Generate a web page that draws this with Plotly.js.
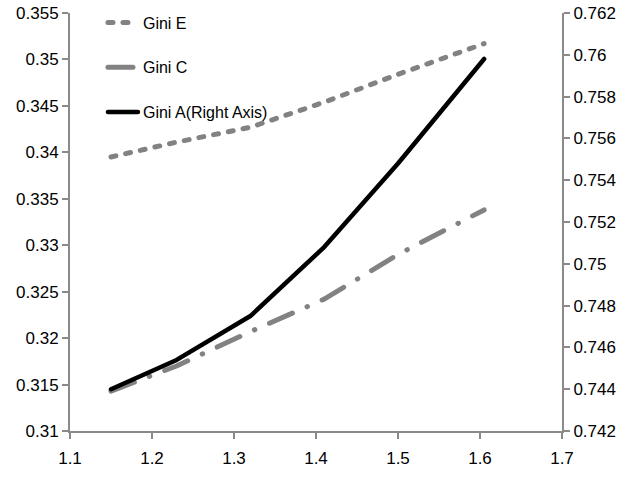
<!DOCTYPE html>
<html>
<head>
<meta charset="utf-8">
<script src="https://cdn.plot.ly/plotly-3.0.1.min.js"></script>
<style>
  html, body { margin: 0; padding: 0; background: #fff; }
  #chart { width: 625px; height: 478px; }
  path.js-line { stroke-linecap: round; stroke-linejoin: round; }
  .legendlines path { stroke-linecap: round; }
</style>
</head>
<body>
<div id="chart"></div>
<script>
// Data
const xValues = [1.15, 1.23, 1.32, 1.41, 1.50, 1.605];
const giniE = [0.3395, 0.3411, 0.3427, 0.3454, 0.3484, 0.3517];
const giniC = [0.3143, 0.3170, 0.3207, 0.3242, 0.3290, 0.3338];
const giniA = [0.7440, 0.7454, 0.7475, 0.7508, 0.7548, 0.7598];
const seriesNames = ['Gini E', 'Gini C', 'Gini A(Right Axis)'];

const gray = '#828282';
const axisGray = '#8a8a8a';
const fontFam = '"Liberation Sans", Arial, sans-serif';
const tickFont = { family: fontFam, size: 17, color: '#000' };

const traces = [
  { x: xValues, y: giniE, name: seriesNames[0], type: 'scatter', mode: 'lines',
    legendgroup: 'e', line: { color: gray, width: 5, dash: '5px,10px' } },
  { x: xValues, y: giniC, name: seriesNames[1], type: 'scatter', mode: 'lines',
    legendgroup: 'c', line: { color: gray, width: 5, dash: '25px,16px,0.5px,16px' } },
  { x: xValues, y: giniA, name: seriesNames[2], type: 'scatter', mode: 'lines',
    legendgroup: 'a', yaxis: 'y2', line: { color: '#000000', width: 4.5 } }
];

const layout = {
  width: 625, height: 478,
  margin: { l: 70, r: 63, t: 13, b: 47, pad: 0, autoexpand: false },
  paper_bgcolor: '#ffffff', plot_bgcolor: '#ffffff',
  font: { family: fontFam, size: 17, color: '#000' },
  showlegend: true,
  legend: { x: 0.067, y: 1.018, xanchor: 'left', yanchor: 'top', bgcolor: 'rgba(0,0,0,0)',
            tracegroupgap: 21, font: { family: fontFam, size: 16, color: '#000' } },
  xaxis: { range: [1.1, 1.7], dtick: 0.1, tick0: 1.1, showgrid: false, zeroline: false,
           showline: true, linecolor: axisGray, linewidth: 2, ticks: 'outside', ticklen: 6,
           tickwidth: 2, tickcolor: axisGray, tickfont: tickFont, ticklabelstandoff: 5,
           automargin: false, fixedrange: true },
  yaxis: { range: [0.31, 0.355], dtick: 0.005, tick0: 0.31, showgrid: false, zeroline: false,
           showline: true, linecolor: axisGray, linewidth: 2, ticks: 'outside', ticklen: 6,
           tickwidth: 2, tickcolor: axisGray, tickfont: tickFont, ticklabelstandoff: 0,
           automargin: false, fixedrange: true },
  yaxis2: { range: [0.742, 0.762], dtick: 0.002, tick0: 0.742, overlaying: 'y', side: 'right',
            showgrid: false, zeroline: false, showline: true, linecolor: axisGray, linewidth: 2,
            ticks: 'outside', ticklen: 6, tickwidth: 2, tickcolor: axisGray, tickfont: tickFont,
            ticklabelstandoff: 0, automargin: false, fixedrange: true }
};

Plotly.newPlot('chart', traces, layout, { displayModeBar: false, staticPlot: true });
</script>
</body>
</html>
